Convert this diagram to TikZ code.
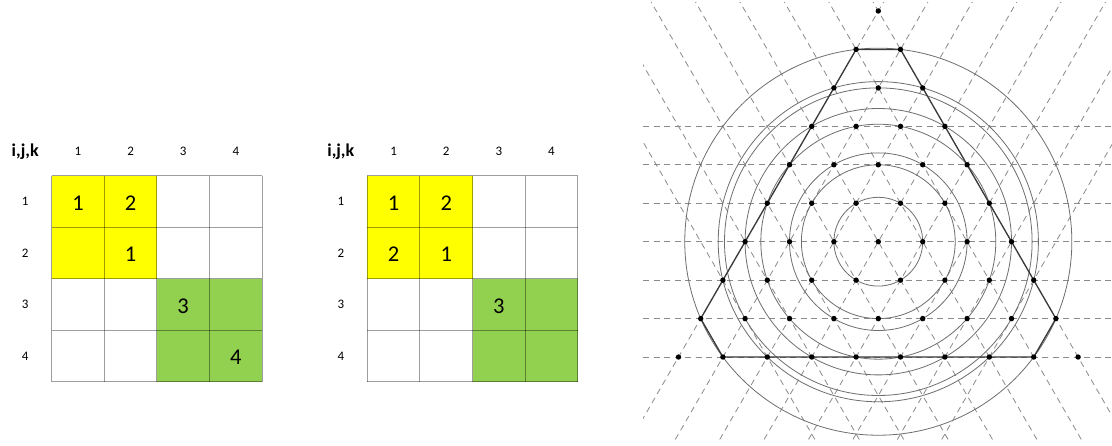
\documentclass[tikz,border=0pt]{standalone}
\usepackage{fontspec}
\setmainfont{Carlito}
\definecolor{yel}{HTML}{FFFF00}
\definecolor{grn}{HTML}{92D050}
\definecolor{circc}{HTML}{6E6E6E}
\definecolor{polyc}{HTML}{3A3A3A}
\definecolor{dashc}{HTML}{8A8A8A}
\tikzset{
  gridln/.style={draw=black, draw opacity=0.38, line width=1pt},
  hdr/.style={inner sep=0pt, font=\fontsize{18}{18}\selectfont\bfseries},
  lbl/.style={inner sep=0pt, font=\fontsize{13}{13}\selectfont},
  ent/.style={inner sep=0pt, font=\fontsize{22.5}{22.5}\selectfont},
  latline/.style={draw=dashc, line width=0.8pt, dash pattern=on 6pt off 4.5pt},
  circ/.style={draw=circc, line width=0.8pt},
  poly/.style={draw=polyc, line width=1.3pt, line join=round},
  latdot/.style={fill=black}
}
\begin{document}
\begin{tikzpicture}[x=1pt,y=-1pt]
\useasboundingbox (0,0) rectangle (1112,446);
\fill[white] (0,0) rectangle (1112,446);

\def\cw{52.6}\def\ch{51.5}\def\gy{175.7}
% ---------- matrices ----------
\foreach \m/\gx in {a/51.7,b/367.3}{
  \fill[yel] (\gx,\gy) rectangle ({\gx+2*\cw},{\gy+2*\ch});
  \fill[grn] ({\gx+2*\cw},{\gy+2*\ch}) rectangle ({\gx+4*\cw},{\gy+4*\ch});
  \foreach \i in {0,...,4}{
    \draw[gridln] ({\gx+\i*\cw},\gy) -- ({\gx+\i*\cw},{\gy+4*\ch});
    \draw[gridln] (\gx,{\gy+\i*\ch}) -- ({\gx+4*\cw},{\gy+\i*\ch});
  }
  \node[hdr] (\m-h) at ({\gx-26.5},151.7) {i,j,k};
  \foreach \j in {1,...,4}{
    \node[lbl] (\m-c\j) at ({\gx+(\j-0.5)*\cw},151.7) {\j};
    \node[lbl] (\m-r\j) at ({\gx-26.5},{\gy+(\j-0.5)*\ch}) {\j};
  }
}
% entries of the first matrix
\node[ent] (a-11) at (78.0,203) {1};
\node[ent] (a-12) at (130.6,203) {2};
\node[ent] (a-22) at (130.6,254.5) {1};
\node[ent] (a-33) at (183.2,306) {3};
\node[ent] (a-44) at (235.8,357.5) {4};
% entries of the second matrix
\node[ent] (b-11) at (393.6,203) {1};
\node[ent] (b-12) at (446.2,203) {2};
\node[ent] (b-21) at (393.6,254.5) {2};
\node[ent] (b-22) at (446.2,254.5) {1};
\node[ent] (b-33) at (498.8,306) {3};

% ---------- lattice ----------
\coordinate (O) at (878.3,241.7);
\begin{scope}
  \clip (643,3) rectangle (1112,442);
  \begin{scope}[shift={(878.3,241.7)}, x={(22.2pt,0pt)}, y={(0pt,-38.45pt)}]
    \foreach \r in {-3,...,3} \draw[latline] (-12,\r) -- (12,\r);
    \foreach \c in {-8,-6,...,6} \draw[latline] ({\c-8},-8) -- ({\c+7},7);
    \foreach \c in {-6,-4,...,8} \draw[latline] ({\c+8},-8) -- ({\c-7},7);
  \end{scope}
\end{scope}

\foreach \n in {1,3,4,7,9,12,13,19}
  \draw[circ] (O) circle[radius={44.4pt*sqrt(\n)}];

\begin{scope}[shift={(878.3,241.7)}, x={(22.2pt,0pt)}, y={(0pt,-38.45pt)}]
  \coordinate (p1) at (-1,-5);
  \coordinate (p2) at (1,-5);
  \coordinate (p3) at (8,2);
  \coordinate (p4) at (7,3);
  \coordinate (p5) at (-7,3);
  \coordinate (p6) at (-8,2);
  \draw[poly] (p1) -- (p2) -- (p3) -- (p4) -- (p5) -- (p6) -- cycle;
  \foreach \r in {-6,...,3}{
    \pgfmathtruncatemacro\mm{\r+6}
    \foreach \k in {0,...,\mm}{
      \fill[latdot] ({-\mm+2*\k},\r) circle[radius=2.7pt];
    }
  }
\end{scope}
\end{tikzpicture}
\end{document}
